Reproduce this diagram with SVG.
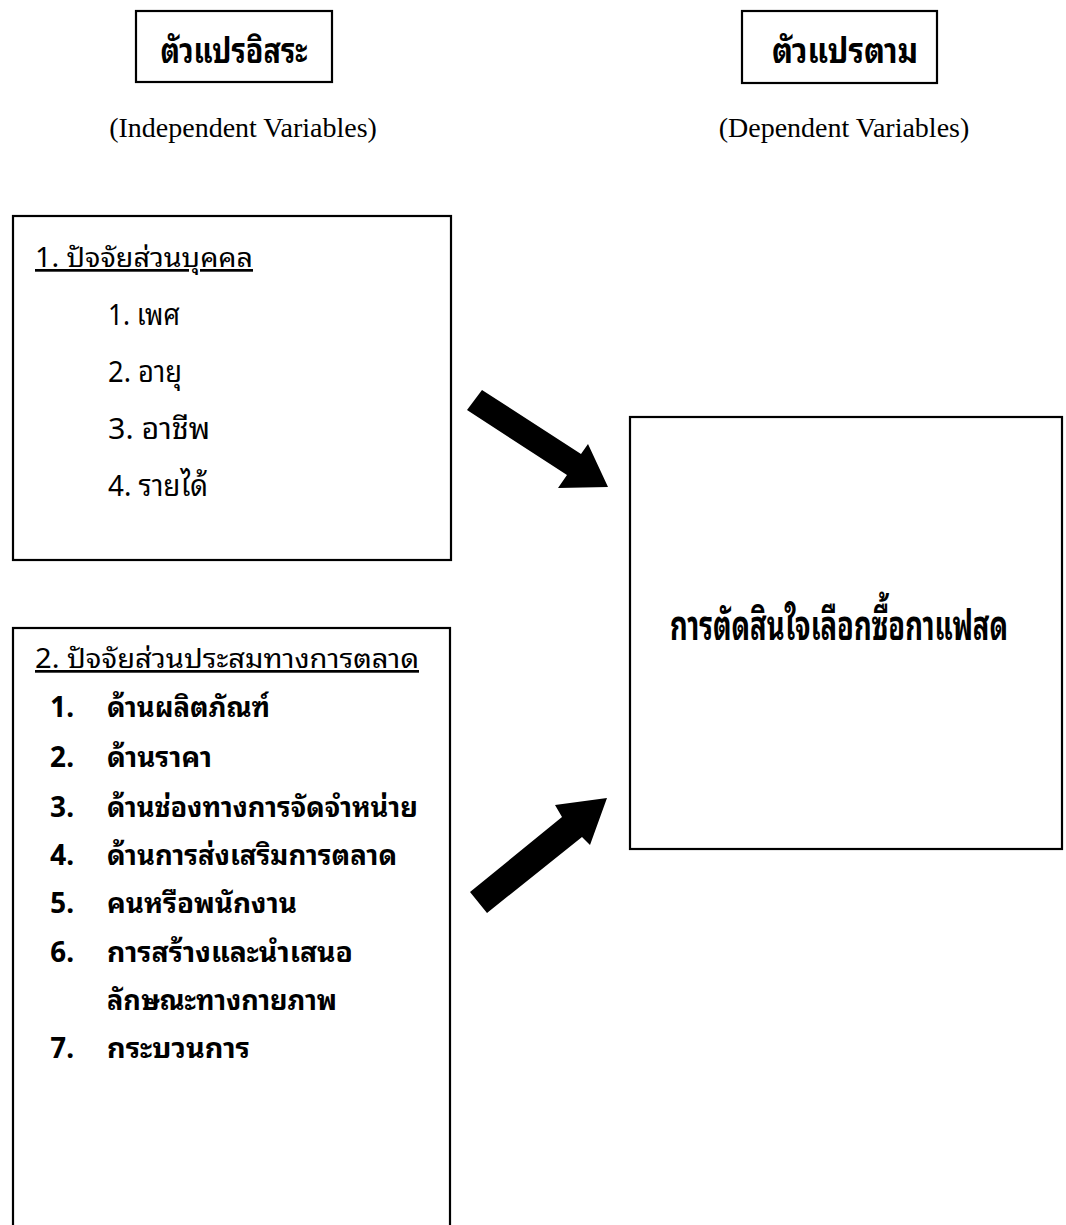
<svg xmlns="http://www.w3.org/2000/svg" width="1066" height="1225" viewBox="0 0 1066 1225">
<style>
.box{fill:none;stroke:#000;stroke-width:2.2}
.th{font-family:"Noto Sans Thai Looped","Noto Serif Thai","Norasi","Loma","Noto Sans Thai","Noto Sans","Liberation Sans",sans-serif;fill:#000}
.thb{font-family:"Noto Sans Thai Looped","Noto Serif Thai","Norasi","Loma","Noto Sans Thai","Noto Sans","Liberation Sans",sans-serif;font-weight:bold;fill:#000}
.en{font-family:"Liberation Serif",serif;font-size:28px;fill:#000}
.arrow{fill:#000;stroke:none}
.item{font-size:29px}
.itemb{font-size:28px;font-weight:bold}
.hd{font-size:27px;text-decoration:underline}
</style>
<rect width="1066" height="1225" fill="#fff"/>
<g id="label-independent">
<rect class="box" x="136" y="11" width="196" height="71"/>
<text class="thb" x="234" y="63" font-size="34" text-anchor="middle" textLength="147" lengthAdjust="spacingAndGlyphs">ตัวแปรอิสระ</text>
<text class="en" x="243" y="137" text-anchor="middle">(Independent Variables)</text>
</g>
<g id="label-dependent">
<rect class="box" x="742" y="11" width="195" height="72"/>
<text class="thb" x="845" y="63" font-size="34" text-anchor="middle" textLength="146" lengthAdjust="spacingAndGlyphs">ตัวแปรตาม</text>
<text class="en" x="844" y="137" text-anchor="middle">(Dependent Variables)</text>
</g>
<g id="node-personal">
<rect class="box" x="13" y="216" width="438" height="344"/>
<text class="th hd" x="35" y="267" textLength="218" lengthAdjust="spacingAndGlyphs">1. ปัจจัยส่วนบุคคล</text>
<text class="th item" x="108" y="325" textLength="72" lengthAdjust="spacingAndGlyphs">1. เพศ</text>
<text class="th item" x="108" y="382" textLength="74" lengthAdjust="spacingAndGlyphs">2. อายุ</text>
<text class="th item" x="108" y="439" textLength="102" lengthAdjust="spacingAndGlyphs">3.  อาชีพ</text>
<text class="th item" x="108" y="496" textLength="100" lengthAdjust="spacingAndGlyphs">4. รายได้</text>
</g>
<g id="node-marketing-mix">
<rect class="box" x="13" y="628" width="437" height="610"/>
<text class="th hd" x="35" y="668" textLength="384" lengthAdjust="spacingAndGlyphs">2. ปัจจัยส่วนประสมทางการตลาด</text>
<g class="th itemb">
<text x="50" y="717">1.</text><text x="107" y="717" textLength="163" lengthAdjust="spacingAndGlyphs">ด้านผลิตภัณฑ์</text>
<text x="50" y="767">2.</text><text x="107" y="767" textLength="105" lengthAdjust="spacingAndGlyphs">ด้านราคา</text>
<text x="50" y="817">3.</text><text x="107" y="817" textLength="311" lengthAdjust="spacingAndGlyphs">ด้านช่องทางการจัดจำหน่าย</text>
<text x="50" y="865">4.</text><text x="107" y="865" textLength="290" lengthAdjust="spacingAndGlyphs">ด้านการส่งเสริมการตลาด</text>
<text x="50" y="913">5.</text><text x="107" y="913" textLength="190" lengthAdjust="spacingAndGlyphs">คนหรือพนักงาน</text>
<text x="50" y="962">6.</text><text x="107" y="962" textLength="246" lengthAdjust="spacingAndGlyphs">การสร้างและนำเสนอ</text>
<text x="107" y="1010" textLength="230" lengthAdjust="spacingAndGlyphs">ลักษณะทางกายภาพ</text>
<text x="50" y="1058">7.</text><text x="107" y="1058" textLength="143" lengthAdjust="spacingAndGlyphs">กระบวนการ</text>
</g>
</g>
<g id="node-decision">
<rect class="box" x="630" y="417" width="432" height="432"/>
<text class="thb" transform="translate(839,640) scale(0.7,1)" x="0" y="0" font-size="42" text-anchor="middle" textLength="483" lengthAdjust="spacingAndGlyphs">การตัดสินใจเลือกซื้อกาแฟสด</text>
</g>
<g id="connectors">
<polygon class="arrow" points="482,390 581,454 588,444 608,487 558,488 567,475 467,410"/>
<polygon class="arrow" points="487,913 470,892 562,817 555,805 607,798 590,845 582,837"/>
</g>
</svg>
